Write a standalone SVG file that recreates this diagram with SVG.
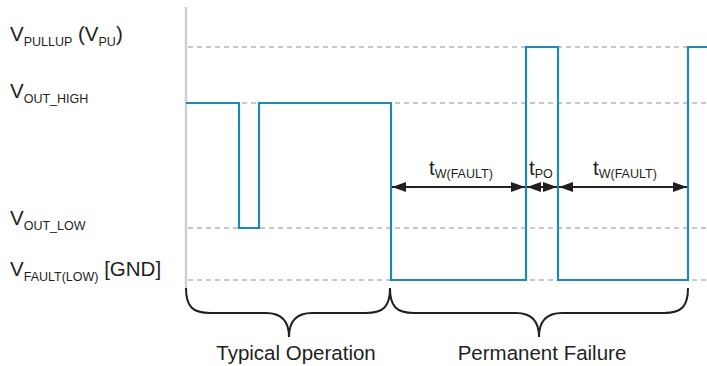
<svg xmlns="http://www.w3.org/2000/svg" width="707" height="366" viewBox="0 0 707 366">
  <style>
    .lbl { font-family: "Liberation Sans", Arial, sans-serif; font-size: 20.5px; fill: #231f20; }
    .sub { font-size: 12.5px; }
    .grid { stroke: #c8c8c8; stroke-width: 2; stroke-dasharray: 5 4; fill: none; }
    .axis { stroke: #d0d0d0; stroke-width: 2.5; fill: none; }
    .wave { stroke: #1f89b5; stroke-width: 2.2; fill: none; stroke-linejoin: miter; }
    .dim { stroke: #231f20; stroke-width: 2; fill: none; marker-start: url(#head); marker-end: url(#head); }
    .brace { stroke: #231f20; stroke-width: 2; fill: none; }
  </style>
  <defs>
    <marker id="head" viewBox="0 0 14 10" refX="14" refY="5" markerWidth="14" markerHeight="10" markerUnits="userSpaceOnUse" orient="auto-start-reverse">
      <path d="M0,0 L14,5 L0,10 Z" fill="#231f20"/>
    </marker>
  </defs>

  <!-- level reference lines -->
  <g id="levels">
    <line class="grid" x1="188" y1="47" x2="707" y2="47"/>
    <line class="grid" x1="188" y1="103" x2="707" y2="103"/>
    <line class="grid" x1="188" y1="228" x2="707" y2="228"/>
    <line class="grid" x1="188" y1="280" x2="707" y2="280"/>
    <line class="axis" x1="186" y1="7" x2="186" y2="290"/>
  </g>

  <!-- voltage level labels -->
  <g id="label-vpullup">
    <text class="lbl" x="10" y="41">V<tspan class="sub" dy="5">PULLUP</tspan><tspan dy="-5"> (V</tspan><tspan class="sub" dy="5">PU</tspan><tspan dy="-5">)</tspan></text>
  </g>
  <g id="label-vouthigh">
    <text class="lbl" x="10" y="98">V<tspan class="sub" dy="5">OUT_HIGH</tspan></text>
  </g>
  <g id="label-voutlow">
    <text class="lbl" x="10" y="225">V<tspan class="sub" dy="5">OUT_LOW</tspan></text>
  </g>
  <g id="label-vfault">
    <text class="lbl" x="10" y="276">V<tspan class="sub" dy="5">FAULT(LOW)</tspan><tspan dy="-5"> [GND]</tspan></text>
  </g>

  <!-- output waveform -->
  <g id="waveform">
    <path class="wave" d="M186,103 H239 V228 H259 V103 H391 V280 H526 V47 H558 V280 H688 V47 H707"/>
  </g>

  <!-- timing dimensions -->
  <g id="connectors">
    <line class="dim" x1="392" y1="187" x2="525" y2="187"/>
    <line class="dim" x1="527" y1="187" x2="557" y2="187"/>
    <line class="dim" x1="559" y1="187" x2="687" y2="187"/>
  </g>
  <g id="label-tw1">
    <text class="lbl" x="429" y="175">t<tspan class="sub" dy="3">W(FAULT)</tspan></text>
  </g>
  <g id="label-tpo">
    <text class="lbl" x="529" y="175">t<tspan class="sub" dy="3">PO</tspan></text>
  </g>
  <g id="label-tw2">
    <text class="lbl" x="593" y="175">t<tspan class="sub" dy="3">W(FAULT)</tspan></text>
  </g>

  <!-- phase braces -->
  <g id="brace-typical">
    <path class="brace" d="M186,288 C186,306 192,313 210,313 L266,313 C281,313 289,320 289,337 C289,320 297,313 312,313 L366,313 C384,313 390,306 390,288"/>
    <text class="lbl" x="296" y="360" text-anchor="middle">Typical Operation</text>
  </g>
  <g id="brace-permanent">
    <path class="brace" d="M390,288 C390,306 396,313 414,313 L516,313 C531,313 539,320 539,337 C539,320 547,313 562,313 L664,313 C682,313 688,306 688,288"/>
    <text class="lbl" x="542" y="360" text-anchor="middle">Permanent Failure</text>
  </g>
</svg>
